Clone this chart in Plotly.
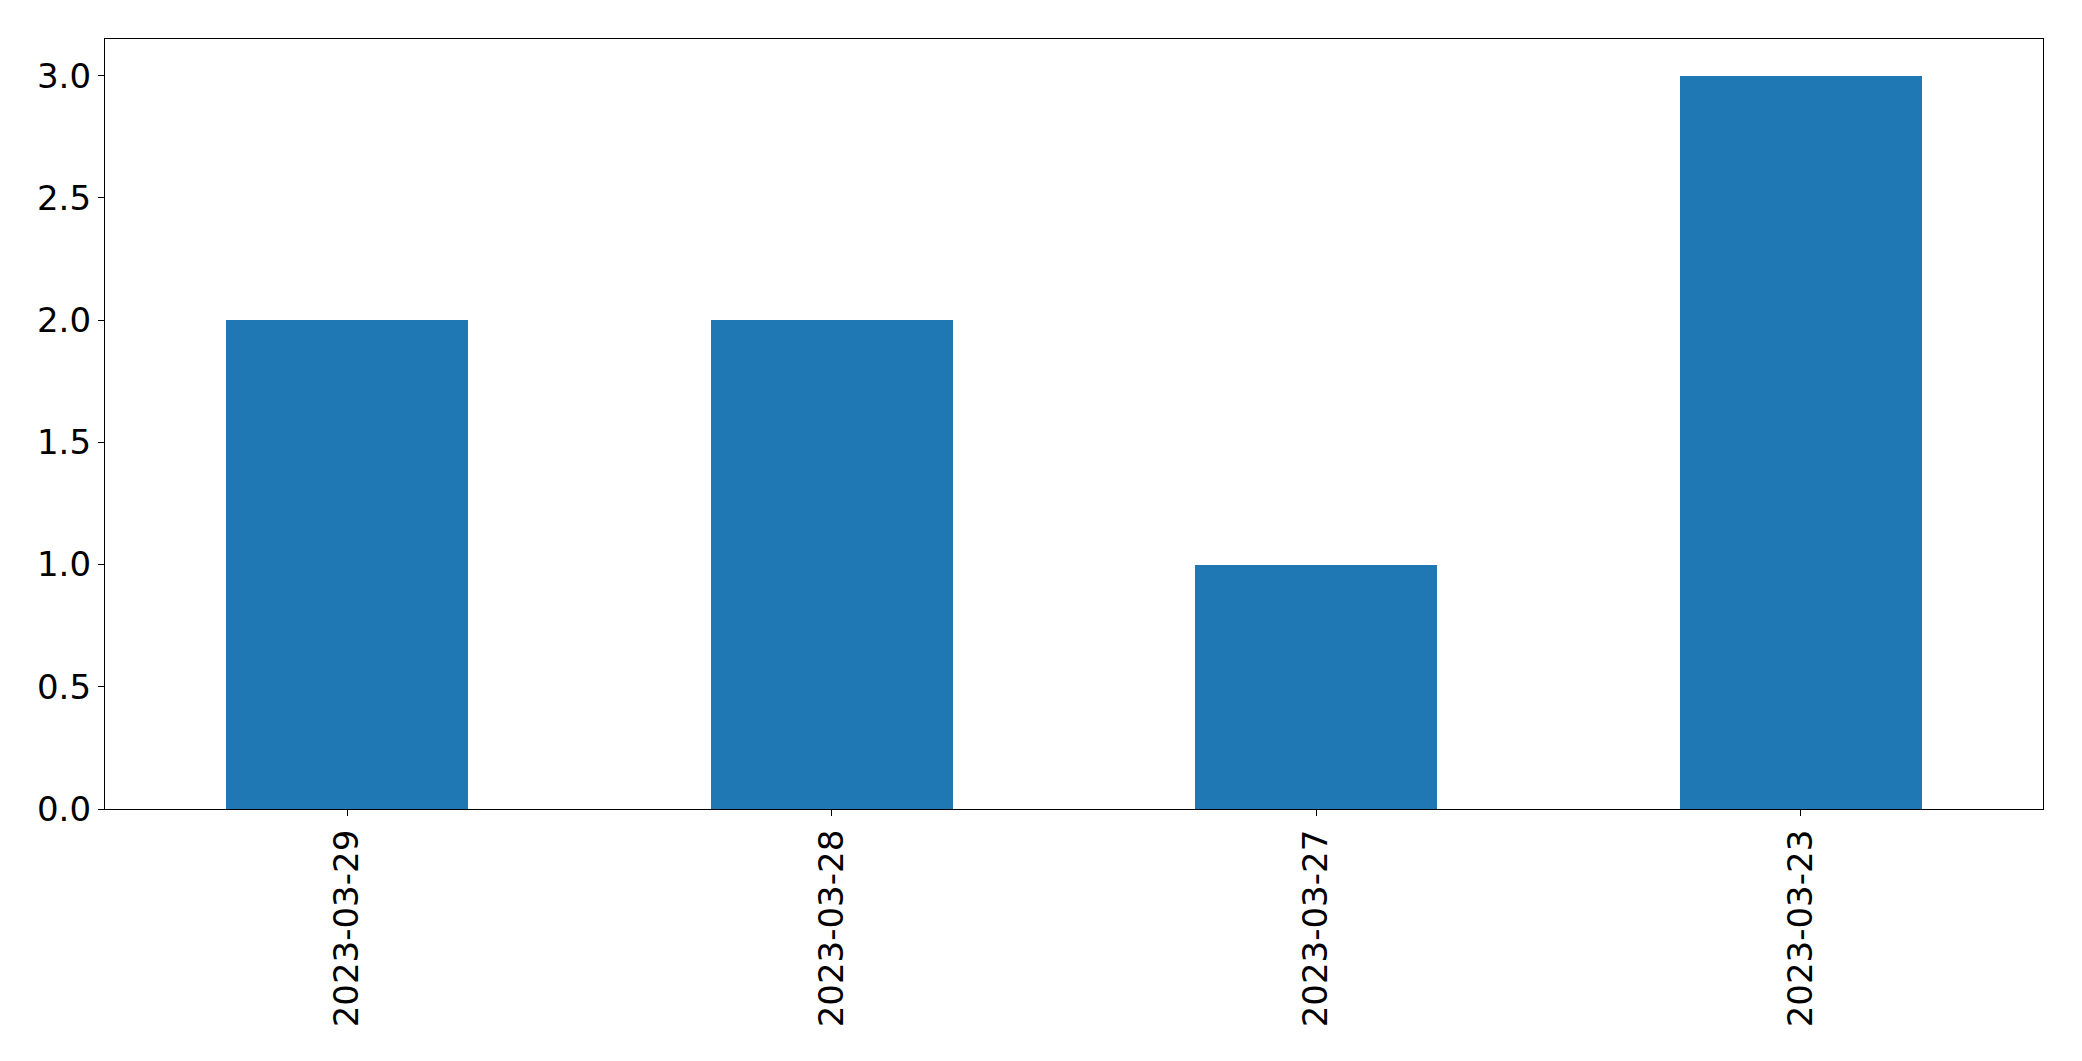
import plotly.graph_objects as go

categories = ["2023-03-29", "2023-03-28", "2023-03-27", "2023-03-23"]
values = [2, 2, 1, 3]
y_ticks = [0.0, 0.5, 1.0, 1.5, 2.0, 2.5, 3.0]
y_tick_labels = ["0.0", "0.5", "1.0", "1.5", "2.0", "2.5", "3.0"]

fig = go.Figure()
fig.add_trace(go.Bar(
    x=list(range(len(categories))),
    y=values,
    width=0.5,
    marker=dict(color="#1f77b4", line=dict(width=0)),
))

# page body has an 8px margin, so the figure is placed at (8, 8)
fig.update_layout(
    width=2066,
    height=1045,
    margin=dict(l=97, r=31, t=31, b=244, autoexpand=False),
    paper_bgcolor="white",
    plot_bgcolor="white",
    showlegend=False,
    font=dict(family="DejaVu Sans", size=34, color="black"),
    bargap=0,
)
fig.update_xaxes(
    range=[-0.5, 3.5],
    tickmode="array",
    tickvals=list(range(len(categories))),
    ticktext=categories,
    tickangle=-90,
    automargin=False,
    showgrid=False,
    zeroline=False,
    showline=True,
    mirror=True,
    linecolor="black",
    linewidth=1.3,
    ticks="outside",
    ticklen=6,
    tickwidth=1.3,
    tickcolor="black",
    ticklabelstandoff=0,
)
fig.update_yaxes(
    range=[0, 3.15],
    tickmode="array",
    tickvals=y_ticks,
    ticktext=y_tick_labels,
    automargin=False,
    showgrid=False,
    zeroline=False,
    showline=True,
    mirror=True,
    linecolor="black",
    linewidth=1.3,
    ticks="outside",
    ticklen=6,
    tickwidth=1.3,
    tickcolor="black",
    ticklabelstandoff=0,
)

fig.write_html("out.html")
